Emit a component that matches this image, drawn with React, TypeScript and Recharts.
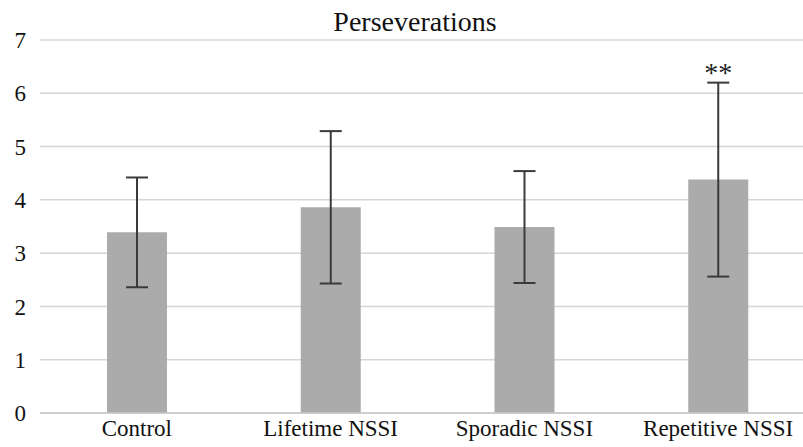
import React from "react";
import { BarChart, Bar, XAxis, YAxis, CartesianGrid, ErrorBar, LabelList } from "recharts";

const categories = ["Control", "Lifetime NSSI", "Sporadic NSSI", "Repetitive NSSI"];
const means = [3.39, 3.86, 3.49, 4.38];
const errors = [1.03, 1.43, 1.05, 1.82];
const significance = ["", "", "", "**"];
const yTicks = [0, 1, 2, 3, 4, 5, 6, 7];

const data = categories.map((name, i) => ({
  name,
  mean: means[i],
  err: errors[i],
  sig: significance[i],
}));

const FONT = "Liberation Serif, Tinos, DejaVu Serif, serif";

const SigLabel = (props: any) => {
  const { x, y, width, height, value, index } = props;
  if (!value) return null;
  const d = data[index];
  const pxPerUnit = height / d.mean;
  const top = y - d.err * pxPerUnit;
  return (
    <text
      x={x + width / 2}
      y={top - 1}
      textAnchor="middle"
      style={{ fontFamily: FONT }}
      fontSize={28}
      fill="#222"
    >
      {value}
    </text>
  );
};

export default function App() {
  return (
    <div
      style={{
        position: "absolute",
        left: 0,
        top: 0,
        width: 803,
        height: 447,
        overflow: "hidden",
        background: "#fff",
        fontFamily: FONT,
      }}
    >
      <div
        style={{
          position: "absolute",
          left: 0,
          top: 6,
          width: 830,
          textAlign: "center",
          fontFamily: FONT,
          fontSize: 28,
          color: "#111",
          zIndex: 2,
        }}
      >
        Perseverations
      </div>
      <BarChart
        width={820}
        height={447}
        data={data}
        margin={{ top: 40, right: 5, bottom: 0, left: 0 }}
        barCategoryGap={0}
        style={{ fontFamily: FONT }}
      >
        <CartesianGrid vertical={false} stroke="#d6d6d6" strokeWidth={1.5} />
        <XAxis
          dataKey="name"
          height={34}
          tickLine={false}
          tickSize={0}
          tickMargin={7}
          axisLine={{ stroke: "#c8c8c8", strokeWidth: 1.5 }}
          tick={{ fontSize: 23, fill: "#111", style: { fontFamily: FONT } }}
          interval={0}
        />
        <YAxis
          width={40}
          domain={[0, 7]}
          ticks={yTicks}
          axisLine={false}
          tickLine={false}
          tickSize={0}
          tickMargin={14}
          tick={{ fontSize: 23, fill: "#111", style: { fontFamily: FONT } }}
        />
        <Bar dataKey="mean" fill="#ababab" barSize={60} isAnimationActive={false}>
          <ErrorBar dataKey="err" width={11} stroke="#3a3a3a" strokeWidth={2} direction="y" />
          <LabelList dataKey="sig" content={SigLabel} />
        </Bar>
      </BarChart>
    </div>
  );
}
